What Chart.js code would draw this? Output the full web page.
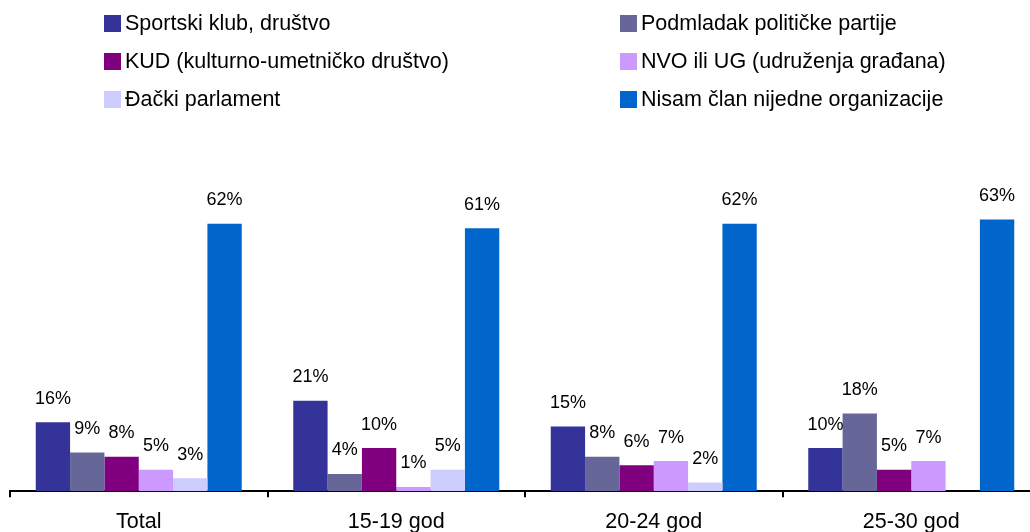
<!DOCTYPE html>
<html>
<head>
<meta charset="utf-8">
<script src="https://cdn.jsdelivr.net/npm/chart.js@4/dist/chart.umd.min.js"></script>
<style>
  html, body { margin: 0; padding: 0; background: #fff; overflow: hidden; }
  #wrap { position: relative; width: 1050px; height: 547px; }
  #legenda {
    position: absolute; left: 104px; top: 4px; width: 900px;
    display: grid; grid-template-columns: 516px 380px; grid-auto-rows: 38px;
    font-family: "Liberation Sans", Arial, sans-serif; font-size: 21.5px; color: #000;
  }
  #legenda .item { display: flex; align-items: center; white-space: nowrap; }
  #legenda .box { width: 17px; height: 17px; margin-right: 4px; flex: none; }
</style>
</head>
<body>
<div id="wrap">
  <canvas id="grafikon"></canvas>
  <div id="legenda"></div>
</div>
<script>
// Članstvo u organizacijama po uzrastu
const kategorije = ['Total', '15-19 god', '20-24 god', '25-30 god'];
const serije = ['Sportski klub, društvo', 'Podmladak političke partije',
  'KUD (kulturno-umetničko društvo)', 'NVO ili UG (udruženja građana)',
  'Đački parlament', 'Nisam član nijedne organizacije'];
const sportski  = [16, 21, 15, 10];
const podmladak = [9, 4, 8, 18];
const kud       = [8, 10, 6, 5];
const nvo       = [5, 1, 7, 7];
const djacki    = [3, 5, 2, null];
const nisamClan = [62, 61, 62, 63];
const boje = ['#333399', '#666699', '#800080', '#cc99ff', '#ccccff', '#0066cc'];

const vrednosti = [sportski, podmladak, kud, nvo, djacki, nisamClan];

// procenti iznad stubića
const oznake = {
  id: 'oznake',
  afterDatasetsDraw(chart) {
    const ctx = chart.ctx;
    ctx.save();
    ctx.font = '18px "Liberation Sans", Arial, sans-serif';
    ctx.fillStyle = '#000';
    ctx.textAlign = 'center';
    ctx.textBaseline = 'alphabetic';
    chart.data.datasets.forEach((ds, i) => {
      chart.getDatasetMeta(i).data.forEach((bar, j) => {
        const v = ds.data[j];
        if (v == null) return;
        ctx.fillText(v + '%', bar.x, bar.y - 18.5);
      });
    });
    ctx.restore();
  }
};

const chart = new Chart(document.getElementById('grafikon'), {
  type: 'bar',
  data: {
    labels: kategorije,
    datasets: serije.map((s, i) => ({
      label: s,
      data: vrednosti[i],
      backgroundColor: boje[i],
      categoryPercentage: 0.8,
      barPercentage: 1.0
    }))
  },
  options: {
    responsive: true,
    maintainAspectRatio: false,
    animation: false,
    layout: { padding: { left: 10, right: 10, top: 60, bottom: 0 } },
    plugins: { legend: { display: false }, tooltip: { enabled: false } },
    scales: {
      y: { display: false, min: 0, max: 100 },
      x: {
        border: { color: '#000', width: 2 },
        grid: { drawOnChartArea: false, color: '#000', lineWidth: 2, tickLength: 6 },
        ticks: {
          color: '#000', padding: 12,
          font: { family: '"Liberation Sans", Arial, sans-serif', size: 21.5 }
        }
      }
    }
  },
  plugins: [oznake]
});

// legenda u dve kolone
const leg = document.getElementById('legenda');
chart.data.datasets.forEach(ds => {
  const el = document.createElement('div');
  el.className = 'item';
  el.innerHTML = '<span class="box" style="background:' + ds.backgroundColor + '"></span>' + ds.label;
  leg.appendChild(el);
});
</script>
</body>
</html>
